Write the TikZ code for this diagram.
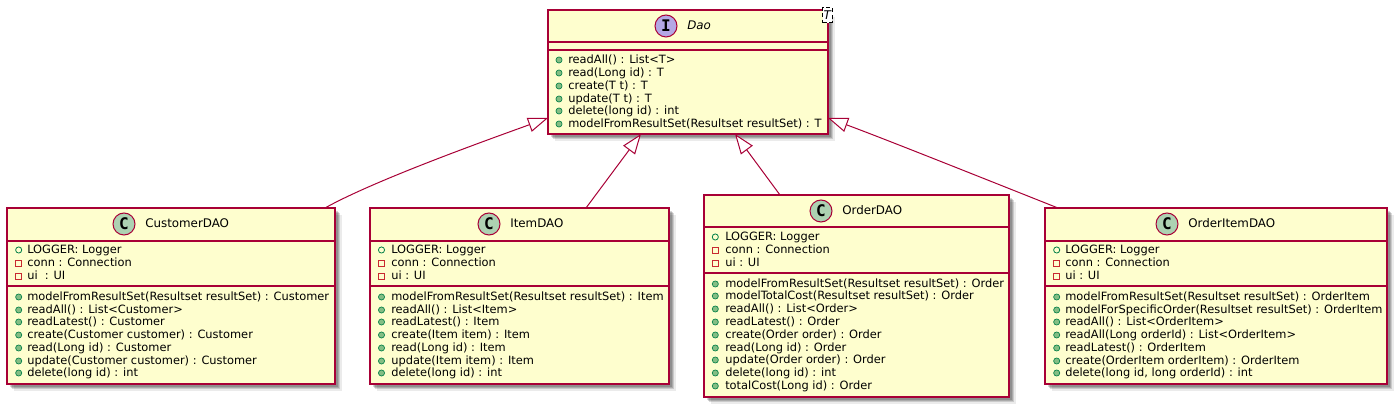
\documentclass[tikz,border=0pt]{standalone}
\usepackage{fontspec}
\setmainfont{DejaVu Sans}
\newfontfamily\letterfont{DejaVu Sans Mono}
\usetikzlibrary{arrows.meta,calc,shadows}
\definecolor{umlred}{HTML}{A80036}
\definecolor{umlfill}{HTML}{FEFECE}
\definecolor{umlc}{HTML}{ADD1B2}
\definecolor{umli}{HTML}{B4A7E5}
\definecolor{mgreen}{HTML}{84BE84}
\definecolor{mline}{HTML}{038048}
\definecolor{pred}{HTML}{C82930}
\tikzset{
  x=.75pt,y=-.75pt,
  classbox/.style={draw=umlred,fill=umlfill,line width=1pt,rectangle,inner sep=0pt,outer sep=0pt,anchor=north west,
    drop shadow={shadow xshift=2pt,shadow yshift=-2pt,fill=black,opacity=.16},
    drop shadow={shadow xshift=3pt,shadow yshift=-3pt,fill=black,opacity=.16},
    drop shadow={shadow xshift=4pt,shadow yshift=-4pt,fill=black,opacity=.14},
    drop shadow={shadow xshift=5pt,shadow yshift=-5pt,fill=black,opacity=.08}},
  sepline/.style={draw=umlred,line width=.9pt},
  spot/.style={circle,draw=umlred,line width=.75pt,minimum size=16.5pt,inner sep=0pt,font=\letterfont\bfseries\fontsize{12pt}{12pt}\selectfont},
  title/.style={anchor=base west,inner sep=0pt,font=\fontsize{8.9pt}{12pt}\selectfont},
  member/.style={anchor=base west,inner sep=0pt,font=\fontsize{8.56pt}{10pt}\selectfont},
  micon/.style={circle,fill=mgreen,draw=mline,line width=.5pt,minimum size=4.6pt,inner sep=0pt},
  ficon/.style={circle,draw=mline,line width=.6pt,minimum size=4.6pt,inner sep=0pt},
  picon/.style={rectangle,draw=pred,line width=.6pt,minimum size=4.6pt,inner sep=0pt},
  generalize/.style={draw=umlred,line width=.75pt,-{Triangle[open,fill=white,length=15pt,width=11pt]}},
  tmpl/.style={draw=black,fill=white,densely dashed,line width=.4pt,minimum width=7pt,minimum height=11.5pt,inner sep=0pt,font=\itshape\fontsize{9pt}{9pt}\selectfont},
}
\newcount\umlrow
\def\umlix{0}\def\umltx{0}
\newcommand{\umlline}[3]{% style, center y, text
  \global\advance\umlrow by 1
  \node[#1] (icon\the\umlrow) at (\umlix,#2) {};
  \node[member] (text\the\umlrow) at (\umltx,#2+4) {#3};
}
\newcommand{\umlbox}[7]{% name x1 y1 x2 y2 sep1 sep2
  \node[classbox,minimum width={(#4-#2)*.75pt},minimum height={(#5-#3)*.75pt}] (#1) at (#2,#3) {};
  \draw[sepline] ($(#1.north west)+(0,#6-#3)$) -- ($(#1.north east)+(0,#6-#3)$);
  \draw[sepline] ($(#1.north west)+(0,#7-#3)$) -- ($(#1.north east)+(0,#7-#3)$);
}
\begin{document}
\begin{tikzpicture}
\useasboundingbox (0,0) rectangle (1400,409);

% Dao
\umlbox{dao}{548}{10}{828}{134}{42}{50}
\node[spot,fill=umli] (daospot) at (666,26) {I};
\node[title,font=\itshape\fontsize{8.9pt}{12pt}\selectfont] (daotitle) at (687,30) {Dao};
\node[tmpl] (daotmpl) at (827.2,15) {T};
\def\umlix{559}\def\umltx{568}
\umlline{micon}{60}{readAll() : List<T>}
\umlline{micon}{73}{read(Long id) : T}
\umlline{micon}{86}{create(T t) : T}
\umlline{micon}{99}{update(T t) : T}
\umlline{micon}{111}{delete(long id) : int}
\umlline{micon}{124}{modelFromResultSet(Resultset resultSet) : T}

% CustomerDAO
\umlbox{customer}{7}{208}{335}{384}{241}{286}
\node[spot,fill=umlc] (customerspot) at (124,224) {C};
\node[title] (customertitle) at (145,228) {CustomerDAO};
\def\umlix{18.7}\def\umltx{27}
\umlline{ficon}{250}{LOGGER: Logger}
\umlline{picon}{263}{conn : Connection}
\umlline{picon}{276}{ui\ \ : UI}
\umlline{micon}{297}{modelFromResultSet(Resultset resultSet) : Customer}
\umlline{micon}{310}{readAll() : List<Customer>}
\umlline{micon}{322}{readLatest() : Customer}
\umlline{micon}{335}{create(Customer customer) : Customer}
\umlline{micon}{348}{read(Long id) : Customer}
\umlline{micon}{361}{update(Customer customer) : Customer}
\umlline{micon}{373}{delete(long id) : int}

% ItemDAO
\umlbox{item}{370}{208}{669}{384}{241}{286}
\node[spot,fill=umlc] (itemspot) at (489,224) {C};
\node[title] (itemtitle) at (510,228) {ItemDAO};
\def\umlix{381.5}\def\umltx{391}
\umlline{ficon}{250}{LOGGER: Logger}
\umlline{picon}{263}{conn : Connection}
\umlline{picon}{276}{ui : UI}
\umlline{micon}{297}{modelFromResultSet(Resultset resultSet) : Item}
\umlline{micon}{310}{readAll() : List<Item>}
\umlline{micon}{322}{readLatest() : Item}
\umlline{micon}{335}{create(Item item) : Item}
\umlline{micon}{348}{read(Long id) : Item}
\umlline{micon}{361}{update(Item item) : Item}
\umlline{micon}{373}{delete(long id) : int}

% OrderDAO
\umlbox{order}{704}{195}{1009}{397}{227}{273}
\node[spot,fill=umlc] (orderspot) at (821,211) {C};
\node[title] (ordertitle) at (842,215) {OrderDAO};
\def\umlix{715.3}\def\umltx{725}
\umlline{ficon}{237}{LOGGER: Logger}
\umlline{picon}{250}{conn : Connection}
\umlline{picon}{263}{ui : UI}
\umlline{micon}{284}{modelFromResultSet(Resultset resultSet) : Order}
\umlline{micon}{296}{modelTotalCost(Resultset resultSet) : Order}
\umlline{micon}{309}{readAll() : List<Order>}
\umlline{micon}{322}{readLatest() : Order}
\umlline{micon}{335}{create(Order order) : Order}
\umlline{micon}{348}{read(Long id) : Order}
\umlline{micon}{360}{update(Order order) : Order}
\umlline{micon}{373}{delete(long id) : int}
\umlline{micon}{386}{totalCost(Long id) : Order}

% OrderItemDAO
\umlbox{orderitem}{1045}{208}{1387}{384}{241}{286}
\node[spot,fill=umlc] (orderitemspot) at (1167,224) {C};
\node[title] (orderitemtitle) at (1188,228) {OrderItemDAO};
\def\umlix{1056.7}\def\umltx{1065}
\umlline{ficon}{250}{LOGGER: Logger}
\umlline{picon}{263}{conn : Connection}
\umlline{picon}{276}{ui : UI}
\umlline{micon}{297}{modelFromResultSet(Resultset resultSet) : OrderItem}
\umlline{micon}{310}{modelForSpecificOrder(Resultset resultSet) : OrderItem}
\umlline{micon}{322}{readAll() : List<OrderItem>}
\umlline{micon}{335}{readAll(Long orderId) : List<OrderItem>}
\umlline{micon}{348}{readLatest() : OrderItem}
\umlline{micon}{361}{create(OrderItem orderItem) : OrderItem}
\umlline{micon}{373}{delete(long id, long orderId) : int}

% generalisations
\draw[generalize] ($(customer.north east)+(-10,0)$) .. controls (375,180) and (490,139) .. ($(dao.south west)+(0,-16)$);
\draw[generalize] ($(item.north west)+(216,0)$) -- ($(dao.south west)+(93,0)$);
\draw[generalize] ($(order.north west)+(76,0)$) -- ($(dao.south west)+(187,0)$);
\draw[generalize] ($(orderitem.north west)+(13,0)$) .. controls (1000,185) and (885,139) .. ($(dao.south east)+(0,-16)$);
\end{tikzpicture}
\end{document}
